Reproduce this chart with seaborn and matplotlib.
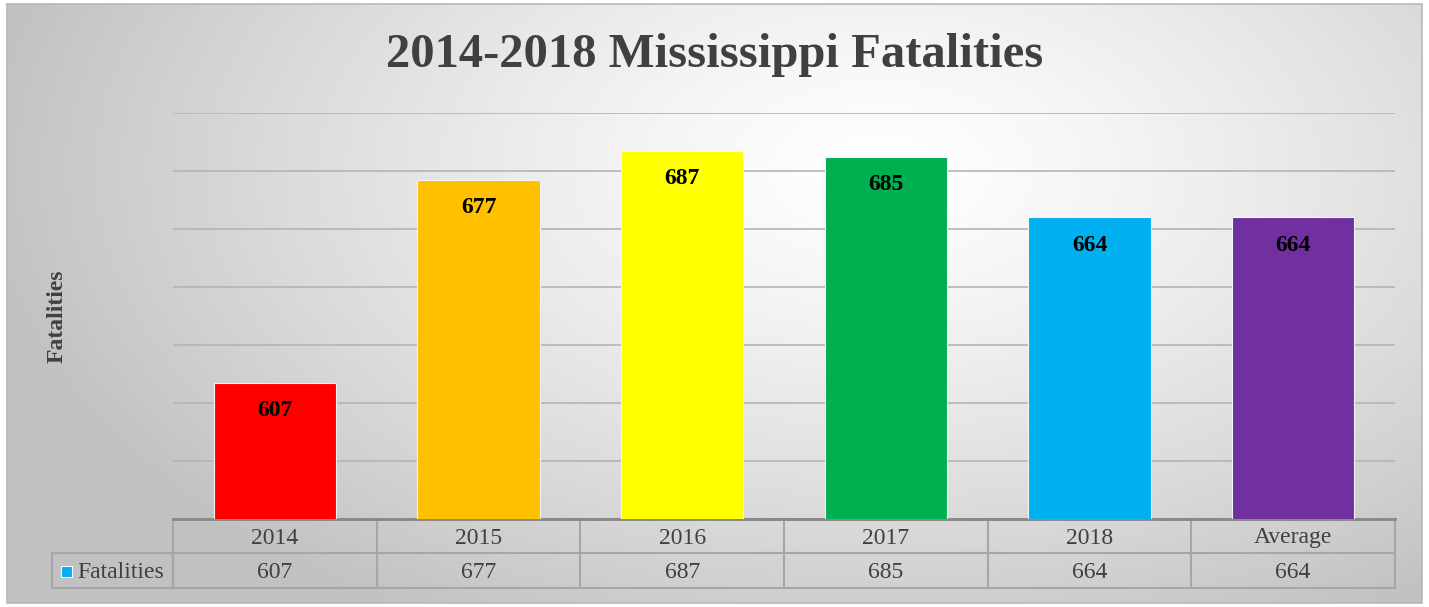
import numpy as np
import pandas as pd
import matplotlib.pyplot as plt
import matplotlib.transforms as mtransforms
import seaborn as sns

# data
categorias = ["2014", "2015", "2016", "2017", "2018", "Average"]
muertes = [607, 677, 687, 685, 664, 664]
colores = ["#FF0000", "#FFC000", "#FFFF00", "#00B050", "#00B0F0", "#7030A0"]

df = pd.DataFrame({"Year": categorias, "Fatalities": muertes})

sns.set_theme(style="white")
plt.rcParams["font.family"] = ["Liberation Serif", "DejaVu Serif"]

W, H = 1429, 607
fig = plt.figure(figsize=(W / 100, H / 100), dpi=100)

# --- fondo con degradado radial ---
bg = fig.add_axes([0, 0, 1, 1], zorder=-5)
yy, xx = np.mgrid[0:H, 0:W]
r = np.sqrt(((xx - 880) / 900.0) ** 2 + ((yy - 170) / 520.0) ** 2)
r = np.clip(r, 0, 1)
grad = 1.0 - 0.24 * r ** 1.3
img = np.dstack([grad, grad, grad])
frame = np.zeros((H, W), dtype=bool)
frame[4:603, 7:1422] = True
img[~frame] = 1.0
bg.imshow(img, aspect="auto", extent=[0, W, H, 0], interpolation="bilinear")
bg.plot([7, 1422, 1422, 7, 7], [4, 4, 603, 603, 4], color="#b8b8b8", lw=1.2)
bg.set_xlim(0, W); bg.set_ylim(H, 0)
bg.axis("off")

# --- barras ---
ax = fig.add_axes([173 / W, 1 - 519 / H, (1395 - 173) / W, (519 - 113) / H])
ax.patch.set_alpha(0)
sns.barplot(data=df, x="Year", y="Fatalities", hue="Year", palette=colores,
            saturation=1, width=0.6, legend=False, ax=ax, edgecolor="#f4f4f4",
            linewidth=0.8, zorder=3)
ax.set_xlim(-0.5, len(categorias) - 0.5)
ax.set_ylim(560, 700)
ax.set_yticks(np.arange(560, 701, 20))
ax.yaxis.grid(True, color="#b4b4b4", lw=1.2, zorder=0)
ax.tick_params(labelleft=False, labelbottom=False, length=0)
for s in ["top", "right", "left"]:
    ax.spines[s].set_visible(False)
ax.spines["bottom"].set_color("#8a8a8a")
ax.spines["bottom"].set_linewidth(2)
ax.set_xlabel("")
ax.set_ylabel("")

for i, v in enumerate(muertes):
    ax.annotate(str(v), (i, v), xytext=(0, -20), textcoords="offset points",
                ha="center", va="center", fontsize=17, fontweight="bold",
                color="black", zorder=5)

fig.text(715 / W, 1 - 55 / H, "2014-2018 Mississippi Fatalities",
         ha="center", va="center", fontsize=35, fontweight="bold", color="#404040")
fig.text(57 / W, 1 - 316 / H, "Fatalities", rotation=90, ha="center",
         va="center", fontsize=17, fontweight="bold", color="#404040")

# --- tabla de datos ---
trans = mtransforms.blended_transform_factory(ax.transData, fig.transFigure)
fy = lambda p: 1 - p / H
y_top, y_mid, y_bot = 519, 553, 588
gris = "#a6a6a6"
n = len(categorias)
for i in range(n + 1):
    x = i - 0.5
    ax.plot([x, x], [fy(y_top), fy(y_bot)], transform=trans, color=gris,
            lw=1.5, clip_on=False)
ax.plot([-0.5, n - 0.5], [fy(y_top), fy(y_top)], transform=trans,
        color="#8a8a8a", lw=2, clip_on=False)
ax.plot([-0.5, n - 0.5], [fy(y_bot), fy(y_bot)], transform=trans,
        color=gris, lw=1.5, clip_on=False)
ax.plot([-0.5, n - 0.5], [fy(y_mid), fy(y_mid)], transform=trans,
        color=gris, lw=1.5, clip_on=False)
for i, (c, v) in enumerate(zip(categorias, muertes)):
    ax.text(i, fy((y_top + y_mid) / 2 + 2), c, transform=trans, ha="center",
            va="center", fontsize=17, color="#404040")
    ax.text(i, fy((y_mid + y_bot) / 2 + 2), str(v), transform=trans,
            ha="center", va="center", fontsize=17, color="#404040")

# celda de la leyenda
bg.plot([52, 173, 173, 52, 52], [y_mid, y_mid, y_bot, y_bot, y_mid],
        color=gris, lw=1.5)
bg.add_patch(plt.Rectangle((61, 566), 11, 11, facecolor="#00B0F0",
                           edgecolor="white", lw=0.8))
bg.text(77, (y_mid + y_bot) / 2 + 2, "Fatalities", ha="left", va="center",
        fontsize=17, color="#404040")

plt.savefig("out.png", dpi=100)
plt.close()
